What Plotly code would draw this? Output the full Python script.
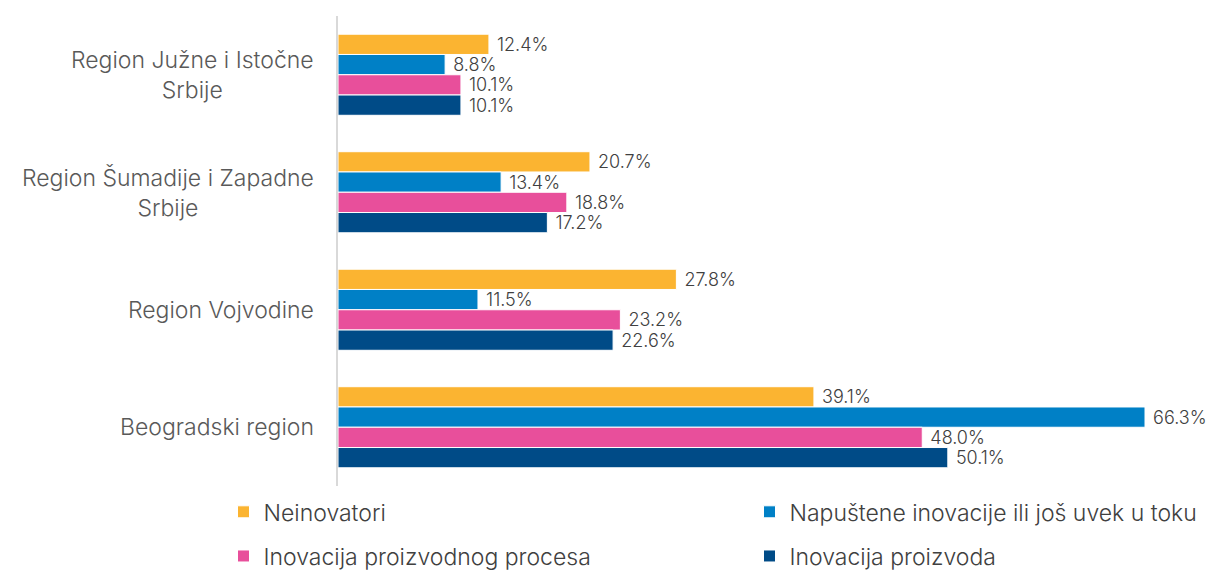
import plotly.graph_objects as go

# Raw data
regions = ["Region Južne i Istočne Srbije", "Region Šumadije i Zapadne Srbije",
           "Region Vojvodine", "Beogradski region"]
region_labels = ["Region Južne i Istočne<br>Srbije", "Region Šumadije i Zapadne<br>Srbije",
                 "Region Vojvodine", "Beogradski region"]
series = ["Neinovatori", "Napuštene inovacije ili još uvek u toku",
          "Inovacija proizvodnog procesa", "Inovacija proizvoda"]
values = {
    "Neinovatori": [12.4, 20.7, 27.8, 39.1],
    "Napuštene inovacije ili još uvek u toku": [8.8, 13.4, 11.5, 66.3],
    "Inovacija proizvodnog procesa": [10.1, 18.8, 23.2, 48.0],
    "Inovacija proizvoda": [10.1, 17.2, 22.6, 50.1],
}
colors = ["#FBB431", "#0080C6", "#E84F9B", "#004B87"]
legend_ids = ["legend", "legend", "legend2", "legend2"]

fig = go.Figure()
for name, color, lg in zip(series, colors, legend_ids):
    fig.add_trace(go.Bar(
        y=regions, x=values[name], name=name, orientation="h",
        marker=dict(color=color, line=dict(color="white", width=1)),
        text=[f"\u00a0{v:.1f}%" for v in values[name]], textposition="outside",
        constraintext="none",
        textfont=dict(size=18, color="#404040", weight=300), cliponaxis=False,
        legend=lg,
    ))

# category labels, centred like the original
for reg, lab in zip(regions, region_labels):
    fig.add_annotation(x=-0.027, xref="paper", xanchor="right", y=reg, yref="y",
                       text=lab, showarrow=False, align="center",
                       font=dict(size=23, color="#595959", weight=300))

# page body has an 8px margin, so the figure is 8px smaller than the window
fig.update_layout(
    width=1212, height=562,
    margin=dict(l=330, r=70, t=8, b=84, autoexpand=False),
    plot_bgcolor="white", paper_bgcolor="white",
    font=dict(family="Inter", color="#404040"),
    barmode="group", bargap=0.31, bargroupgap=0,
    xaxis=dict(range=[0, 66.71], showgrid=False, zeroline=False,
               showticklabels=False, showline=False),
    yaxis=dict(autorange="reversed", showticklabels=False, showgrid=False,
               showline=True, linecolor="#D9D9D9", linewidth=2, ticks=""),
    legend=dict(orientation="h", x=-0.141, y=-0.055, xanchor="left", yanchor="middle",
                entrywidth=481, font=dict(size=23, color="#404040", weight=300)),
    legend2=dict(orientation="h", x=-0.141, y=-0.149, xanchor="left", yanchor="middle",
                 entrywidth=481, font=dict(size=23, color="#404040", weight=300)),
)

fig.write_html("out.html")
